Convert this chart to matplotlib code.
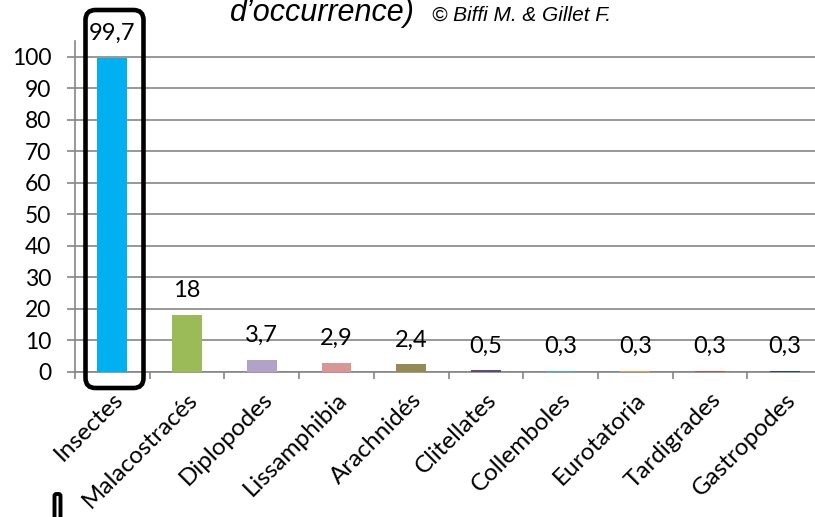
import numpy as np
import matplotlib
matplotlib.use('Agg')
import matplotlib.pyplot as plt
from matplotlib.patches import FancyBboxPatch
from matplotlib.transforms import IdentityTransform

# Data
categories = ['Insectes', 'Malacostracés', 'Diplopodes', 'Lissamphibia', 'Arachnidés',
              'Clitellates', 'Collemboles', 'Eurotatoria', 'Tardigrades', 'Gastropodes']
values = [99.7, 18, 3.7, 2.9, 2.4, 0.5, 0.3, 0.3, 0.3, 0.3]
value_labels = ['99,7', '18', '3,7', '2,9', '2,4', '0,5', '0,3', '0,3', '0,3', '0,3']
colors = ['#00B0F0', '#9BBB59', '#B3A2C7', '#D99694', '#948A54',
          '#604A7B', '#4BACC6', '#F79646', '#C0504D', '#1F497D']

W, H = 815, 517
fig = plt.figure(figsize=(W / 100, H / 100), dpi=100)
fig.patch.set_facecolor('white')

# axes in pixel layout: y=0 at px 372, 3.15 px per unit, category width 74.7 px
ax = fig.add_axes([75 / W, 145 / H, 747 / W, 331 / H])
x = np.arange(len(categories))
ax.bar(x, values, width=0.4, color=colors, zorder=3)
ax.set_xlim(-0.5, len(categories) - 0.5)
ax.set_ylim(0, 105)

grid_col = '#868686'
ax.set_yticks(np.arange(0, 101, 10))
ax.yaxis.grid(True, color=grid_col, linewidth=1.2, zorder=0)
ax.set_axisbelow(True)
for s in ['top', 'right']:
    ax.spines[s].set_visible(False)
for s in ['left', 'bottom']:
    ax.spines[s].set_color(grid_col)
    ax.spines[s].set_linewidth(1.2)

tick_font = 'Lato'
ax.tick_params(axis='y', length=6, width=1.2, color=grid_col, pad=11,
               labelsize=16.5)
for t in ax.get_yticklabels():
    t.set_fontfamily(tick_font)

# category boundaries get the tick marks, labels sit under the centres
ax.set_xticks(np.arange(-0.5, len(categories), 1.0))
ax.set_xticklabels([])
ax.tick_params(axis='x', length=5, width=1.2, color=grid_col)
ax.set_xticks(x, minor=True)
ax.set_xticklabels(categories, minor=True, rotation=45, ha='right', va='top',
                   rotation_mode='anchor', fontsize=17.5, fontfamily=tick_font)
ax.tick_params(axis='x', which='minor', length=0, pad=12)

for xi, v, lab in zip(x, values, value_labels):
    ax.annotate(lab, (xi, v), xytext=(0, 13), textcoords='offset points',
                ha='center', va='baseline', fontsize=17, fontfamily=tick_font)

# title (first line cut off in the original)
fig.text(230 / W, (H - 21) / H, 'd\u2019occurrence)', fontsize=22, style='italic',
         fontfamily='Liberation Sans', ha='left', va='baseline')
fig.text(432 / W, (H - 21) / H, '\u00a9 Biffi M. & Gillet F.', fontsize=15,
         style='italic', fontfamily='Liberation Sans', ha='left', va='baseline')

# rounded highlight box around Insectes (pixel coords, origin bottom-left)
box = FancyBboxPatch((85.5 + 10, H - 388 + 10), 58 - 20, 378 - 20,
                     boxstyle='round,pad=10', transform=IdentityTransform(),
                     fill=False, edgecolor='black', linewidth=3.3, zorder=10)
fig.patches.append(box)
small = FancyBboxPatch((54.5 + 2, -20), 6 - 4, H - 494 + 20 - 2,
                       boxstyle='round,pad=2', transform=IdentityTransform(),
                       fill=False, edgecolor='black', linewidth=2.8, zorder=10)
fig.patches.append(small)

fig.savefig('out.png', dpi=100)
